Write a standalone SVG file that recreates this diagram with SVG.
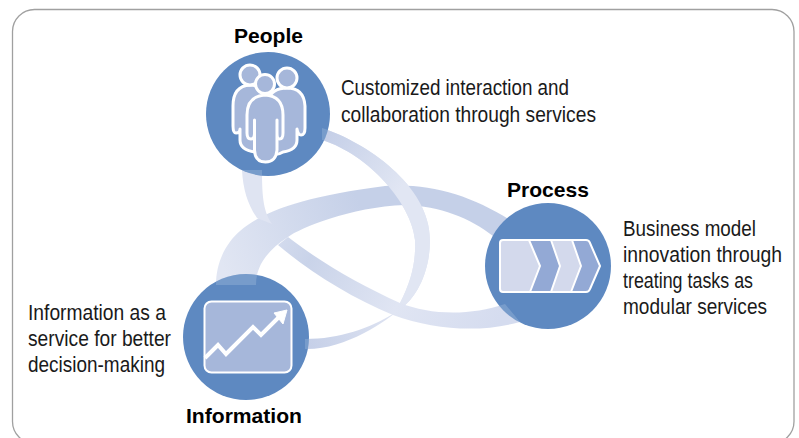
<svg xmlns="http://www.w3.org/2000/svg" xmlns:xlink="http://www.w3.org/1999/xlink" width="799" height="438" viewBox="0 0 799 438">
<style>
.t{font-family:"Liberation Sans",Arial,sans-serif;font-size:21.5px;fill:#1a1a1a}
.h{font-family:"Liberation Sans",Arial,sans-serif;font-size:20.5px;font-weight:bold;fill:#000}
.c{fill:#5e89c1}
.i{fill:#a6b7da;stroke:#fff;stroke-width:3;stroke-linejoin:round}
.o{fill:#fff;opacity:.16}
</style>
<defs>
<linearGradient id="ga" gradientUnits="userSpaceOnUse" x1="330" y1="135" x2="400" y2="190"><stop offset="0" stop-color="#c6d0e8"/><stop offset="1" stop-color="#e1e6f3"/></linearGradient>
<linearGradient id="ga2" gradientUnits="userSpaceOnUse" x1="395" y1="310" x2="310" y2="345"><stop offset="0" stop-color="#dfe4f2"/><stop offset="1" stop-color="#c6d0e8"/></linearGradient>
<linearGradient id="gb" gradientUnits="userSpaceOnUse" x1="220" y1="260" x2="360" y2="205"><stop offset="0" stop-color="#e1e6f3"/><stop offset="1" stop-color="#c5d0e8"/></linearGradient>
<linearGradient id="gc" gradientUnits="userSpaceOnUse" x1="250" y1="190" x2="500" y2="320"><stop offset="0" stop-color="#e0e5f3"/><stop offset=".3" stop-color="#c9d3e9"/><stop offset=".65" stop-color="#e0e5f3"/><stop offset="1" stop-color="#d5dcef"/></linearGradient>
<path id="ra" d="M322 128C365 142 430 185 430 240C430 270 418 295 403 307C385 322 345 350 305 349L305 339C340 339 370 328 393 314L400 303C412 280 416 260 415 240C412 205 370 155 322 140Z"/>
<path id="rb" d="M216 285C216 262 226 243 240 231C262 212 300 197 385 186C430 183 470 195 510 220L493 236C470 218 440 206 405 205C350 207 300 228 288 237C268 250 256 265 256 285Z"/>
<path id="rc" d="M262 170C262 200 268 220 288 237C320 262 360 285 400 303C430 315 470 316 505 304L520 322C480 333 435 330 393 315C350 297 310 272 278 245C255 225 243 200 242 170Z"/>
<clipPath id="cp"><circle cx="268" cy="114" r="62"/></clipPath>
<clipPath id="cr"><circle cx="548" cy="266" r="63"/></clipPath>
<clipPath id="ci"><circle cx="246" cy="337" r="63"/></clipPath>
</defs>
<rect x="12.500" y="9.500" width="781.500" height="434" rx="22" fill="#fff" stroke="#a0a0a0" stroke-width="1.300"/>
<g id="connectors">
<use xlink:href="#ra" href="#ra" fill="url(#ga2)"/>
<use xlink:href="#rb" href="#rb" fill="url(#gb)"/>
<path d="M322 128C365 142 430 185 430 240C430 270 418 295 403 307L393 314L400 303C412 280 416 260 415 240C412 205 370 155 322 140Z" fill="url(#ga)"/>
<path d="M262 170C262 200 264 212 272 224L257 218C248 205 243 190 242 170Z" fill="#dfe4f2"/>
<path d="M288 237C320 262 360 285 400 303C430 315 470 316 505 304L520 322C480 333 435 330 393 315C350 297 310 272 278 245Z" fill="url(#gc)"/>
</g>
<g id="people">
<circle class="c" cx="268" cy="114" r="62"/>
<g clip-path="url(#cp)"><use xlink:href="#rc" href="#rc" class="o"/><use xlink:href="#ra" href="#ra" class="o"/></g>
<path class="i" d="M233 106Q233 86 250 85Q262 85 268 100V150Q262 153 255 152Q240 150 240 140V129Q240 133 236 133Q233 133 233 126Z"/>
<circle class="i" cx="250" cy="75" r="10"/>
<path class="i" d="M305 106Q304 88 287 88Q272 88 268 100V152Q275 157 283 152Q297 150 297 140V129Q298 135 301 135Q305 135 305 128Z"/>
<circle class="i" cx="287" cy="78" r="10"/>
<path class="i" d="M247 115Q247 96 265 95Q283 96 283 115V133Q283 139 279.500 139Q277 139 277 133V120V150Q276 162 265.500 162Q255 162 254.500 150V120V133Q254.500 139 251 139Q247 139 247 133Z"/>
<circle class="i" cx="265" cy="84" r="9.500"/>
</g>
<g id="process">
<circle class="c" cx="548" cy="266" r="63"/>
<g clip-path="url(#cr)"><use xlink:href="#rc" href="#rc" class="o"/></g>
<path d="M529 240H551L560 266L551 292H530L540 266Z" fill="#93a9d5"/>
<path d="M572 240H586Q589 240 590 243L600 266L590 289Q589 292 586 292H571L581 266Z" fill="#93a9d5"/>
<path d="M503 240H529L540 266L530 292H503Q500 292 500 289V243Q500 240 503 240Z" fill="#d3d9ec"/>
<path d="M551 240H572L581 266L571 292H551L560 266Z" fill="#d3d9ec"/>
<path d="M503 240H586Q589 240 590 243L600 266L590 289Q589 292 586 292H503Q500 292 500 289V243Q500 240 503 240ZM529 240L540 266L530 292M551 240L560 266L551 292M572 240L581 266L571 292" fill="none" stroke="#fff" stroke-width="2" stroke-linejoin="round"/>
</g>
<g id="information">
<circle class="c" cx="246" cy="337" r="63"/>
<g clip-path="url(#ci)"><use xlink:href="#rb" href="#rb" class="o"/><use xlink:href="#ra" href="#ra" class="o"/></g>
<rect x="204.500" y="301.500" width="87" height="71" rx="7" fill="#a6b7da" stroke="#fff" stroke-width="2"/>
<path d="M205 358L218 345L226 354L253 327L261 335L281 315" fill="none" stroke="#fff" stroke-width="4"/>
<path d="M274 313L287 310L283 324Z" fill="#fff" stroke="#fff" stroke-width="1"/>
</g>
<g id="labels">
<text class="h" x="234" y="43" textLength="69" lengthAdjust="spacingAndGlyphs">People</text>
<text class="h" x="507" y="197" textLength="82" lengthAdjust="spacingAndGlyphs">Process</text>
<text class="h" x="186" y="423" textLength="116" lengthAdjust="spacingAndGlyphs">Information</text>
<text class="t" x="341" y="95" textLength="228" lengthAdjust="spacingAndGlyphs">Customized interaction and</text>
<text class="t" x="341" y="122" textLength="255" lengthAdjust="spacingAndGlyphs">collaboration through services</text>
<text class="t" x="623" y="236" textLength="133" lengthAdjust="spacingAndGlyphs">Business model</text>
<text class="t" x="623" y="262" textLength="159" lengthAdjust="spacingAndGlyphs">innovation through</text>
<text class="t" x="623" y="288" textLength="130" lengthAdjust="spacingAndGlyphs">treating tasks as</text>
<text class="t" x="623" y="314" textLength="144" lengthAdjust="spacingAndGlyphs">modular services</text>
<text class="t" x="28" y="320" textLength="138" lengthAdjust="spacingAndGlyphs">Information as a</text>
<text class="t" x="28" y="346" textLength="143" lengthAdjust="spacingAndGlyphs">service for better</text>
<text class="t" x="28" y="372" textLength="137" lengthAdjust="spacingAndGlyphs">decision-making</text>
</g>
</svg>
